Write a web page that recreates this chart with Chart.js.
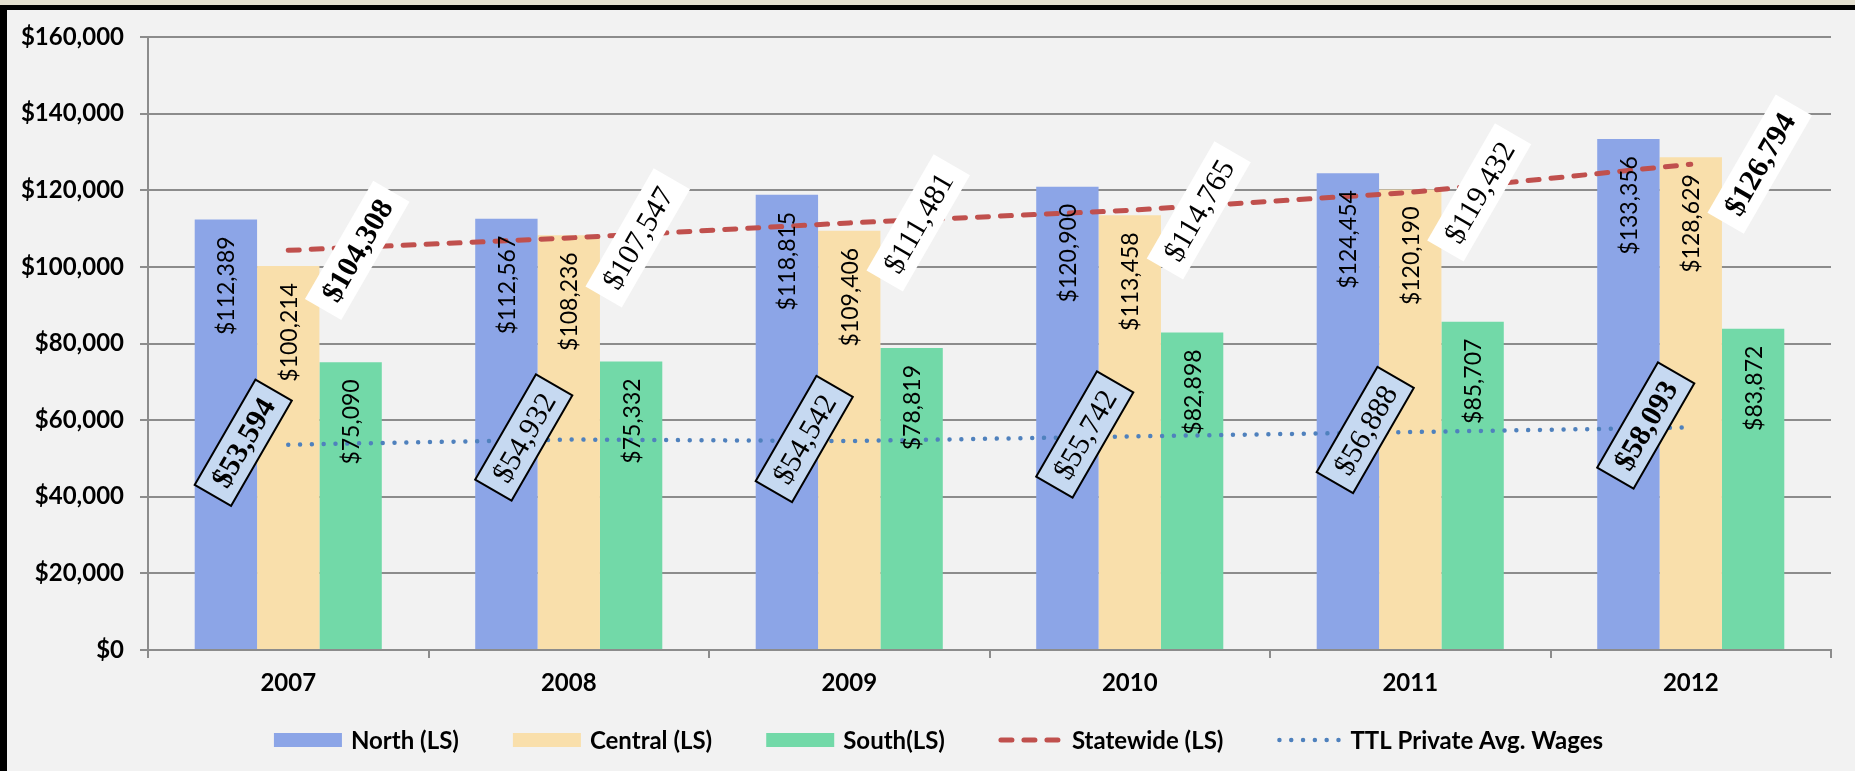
<!DOCTYPE html>
<html>
<head>
<meta charset="utf-8">
<script src="https://cdn.jsdelivr.net/npm/chart.js@4.4.1/dist/chart.umd.min.js"></script>
<style>
html,body{margin:0;padding:0;background:#f2f2f2;overflow:hidden;}
canvas{display:block;}
</style>
</head>
<body>
<canvas id="c" width="1855" height="771"></canvas>
<script>
// ---- data ----
const years = ['2007', '2008', '2009', '2010', '2011', '2012'];
const north = [112389, 112567, 118815, 120900, 124454, 133356];
const central = [100214, 108236, 109406, 113458, 120190, 128629];
const south = [75090, 75332, 78819, 82898, 85707, 83872];
const statewide = [104308, 107547, 111481, 114765, 119432, 126794];
const ttlPrivate = [53594, 54932, 54542, 55742, 56888, 58093];
const seriesNames = ['North (LS)', 'Central (LS)', 'South(LS)', 'Statewide (LS)', 'TTL Private Avg. Wages'];
const yMin = 0, yMax = 160000, yStep = 20000;

// ---- styles ----
const SANS = 'Lato, "Open Sans", "DejaVu Sans", sans-serif';
const SERIF = '"Liberation Serif", "DejaVu Serif", serif';
const GRID = '#8c8c8c';
const fmt = v => '$' + v.toLocaleString('en-US');

const background = {
  id: 'background',
  beforeDraw(chart) {
    const {ctx, width, height} = chart;
    ctx.save();
    ctx.fillStyle = '#f2f2f2';
    ctx.fillRect(0, 0, width, height);
    ctx.fillStyle = '#e3dfcf';
    ctx.fillRect(0, 0, width, 5);
    ctx.fillStyle = '#000';
    ctx.fillRect(0, 5, width, 5);
    ctx.fillRect(0, 5, 7, height - 5);
    ctx.restore();
  }
};

const valueLabels = {
  id: 'valueLabels',
  afterDatasetsDraw(chart) {
    const {ctx} = chart;
    ctx.save();
    // bar labels
    chart.data.datasets.forEach((ds, di) => {
      if (ds.type !== 'bar') return;
      const meta = chart.getDatasetMeta(di);
      meta.data.forEach((el, i) => {
        ctx.save();
        ctx.translate(el.x, el.y + 17);
        ctx.rotate(-Math.PI / 2);
        ctx.font = '23px ' + SANS;
        ctx.fillStyle = '#000';
        ctx.textAlign = 'right';
        ctx.textBaseline = 'middle';
        ctx.fillText(fmt(ds.data[i]), 0, 1);
        ctx.restore();
      });
    });
    // line labels
    chart.data.datasets.forEach((ds, di) => {
      if (ds.type !== 'line') return;
      const meta = chart.getDatasetMeta(di);
      const lab = ds.labelStyle;
      meta.data.forEach((el, i) => {
        const bold = (i === 0 || i === meta.data.length - 1);
        const txt = fmt(ds.data[i]);
        ctx.save();
        ctx.translate(el.x + lab.dx, el.y + lab.dy);
        ctx.rotate(-Math.PI / 3);
        ctx.font = (bold ? 'bold ' : '') + '30px ' + SERIF;
        const w = ctx.measureText(txt).width + 24;
        const h = 42;
        ctx.fillStyle = lab.bg;
        ctx.fillRect(-w / 2, -h / 2, w, h);
        if (lab.border) {
          ctx.lineWidth = 2;
          ctx.strokeStyle = lab.border;
          ctx.strokeRect(-w / 2, -h / 2, w, h);
        }
        ctx.fillStyle = '#000';
        ctx.textAlign = 'center';
        ctx.textBaseline = 'middle';
        ctx.fillText(txt, 0, 2);
        ctx.restore();
      });
    });
    ctx.restore();
  }
};

const customLegend = {
  id: 'customLegend',
  afterDraw(chart) {
    const {ctx} = chart;
    ctx.save();
    ctx.font = 'bold 24px ' + SANS;
    const items = chart.data.datasets.map(ds => {
      const markW = ds.type === 'bar' ? 68 : 64;
      return {ds, markW, textW: ctx.measureText(ds.label).width};
    });
    const gapText = 9, gapItem = 54;
    let total = 0;
    items.forEach((it, k) => { total += it.markW + gapText + it.textW + (k ? gapItem : 0); });
    let x = 938.5 - total / 2;
    const y = 740;
    items.forEach(it => {
      const ds = it.ds;
      if (ds.type === 'bar') {
        ctx.fillStyle = ds.backgroundColor;
        ctx.fillRect(x, y - 7, it.markW, 14);
      } else {
        ctx.save();
        ctx.strokeStyle = ds.borderColor;
        ctx.lineWidth = ds.borderWidth;
        ctx.lineCap = 'round';
        ctx.setLineDash(ds.borderDash);
        ctx.beginPath();
        ctx.moveTo(x + 2, y);
        ctx.lineTo(x + it.markW - 2, y);
        ctx.stroke();
        ctx.restore();
      }
      x += it.markW + gapText;
      ctx.fillStyle = '#000';
      ctx.textAlign = 'left';
      ctx.textBaseline = 'middle';
      ctx.fillText(ds.label, x, y + 1);
      x += it.textW + gapItem;
    });
    ctx.restore();
  }
};

const barDefaults = {type: 'bar', order: 1, borderWidth: 0, categoryPercentage: 0.667, barPercentage: 1.0};

new Chart(document.getElementById('c'), {
  data: {
    labels: years,
    datasets: [
      Object.assign({}, barDefaults, {label: seriesNames[0], data: north, backgroundColor: '#8ca5e7'}),
      Object.assign({}, barDefaults, {label: seriesNames[1], data: central, backgroundColor: '#f9dfab'}),
      Object.assign({}, barDefaults, {label: seriesNames[2], data: south, backgroundColor: '#72d9a8'}),
      {type: 'line', order: 0, label: seriesNames[3], data: statewide, borderColor: '#c0504d', backgroundColor: '#c0504d',
        borderWidth: 5, borderDash: [11, 12], borderCapStyle: 'round', pointRadius: 0, tension: 0, fill: false,
        labelStyle: {dx: 69, dy: 0, bg: '#ffffff', border: null}},
      {type: 'line', order: 0, label: seriesNames[4], data: ttlPrivate, borderColor: '#4f81bd', backgroundColor: '#4f81bd',
        borderWidth: 4.5, borderDash: [0.01, 11.8], borderCapStyle: 'round', pointRadius: 0, tension: 0, fill: false,
        labelStyle: {dx: -45, dy: -2, bg: '#c6d9f1', border: '#000'}}
    ]
  },
  options: {
    responsive: false,
    devicePixelRatio: 1,
    animation: false,
    layout: {padding: {left: 0, right: 24, top: 37, bottom: 0}},
    plugins: {legend: {display: false}, tooltip: {enabled: false}},
    scales: {
      x: {
        offset: true,
        grid: {display: true, drawOnChartArea: false, drawTicks: true, tickLength: 8, offset: true, color: GRID, lineWidth: 2},
        border: {display: true, color: GRID, width: 2},
        ticks: {color: '#000', font: {family: SANS, size: 24, weight: 'bold'}, padding: 11, maxRotation: 0},
        afterFit(s) { s.height = 121; }
      },
      y: {
        min: yMin, max: yMax,
        grid: {color: GRID, lineWidth: 2, tickLength: 8, drawTicks: true},
        border: {display: true, color: GRID, width: 2},
        ticks: {stepSize: yStep, color: '#000', font: {family: SANS, size: 24, weight: 'bold'}, padding: 16,
          callback: v => fmt(v)},
        afterFit(s) { s.width = 148; }
      }
    }
  },
  plugins: [background, valueLabels, customLegend]
});
</script>
</body>
</html>
